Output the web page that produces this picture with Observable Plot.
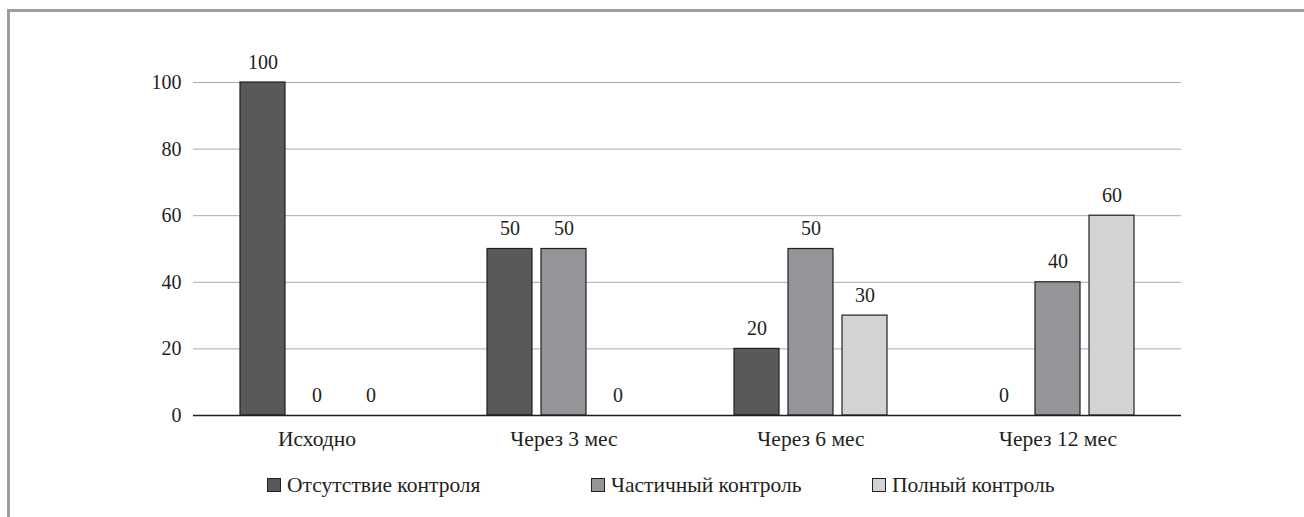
<!DOCTYPE html>
<html lang="ru">
<head>
<meta charset="utf-8">
<script src="https://cdn.jsdelivr.net/npm/d3@7"></script>
<script src="https://cdn.jsdelivr.net/npm/@observablehq/plot@0.6"></script>
<style>
  html, body { margin: 0; padding: 0; background: #fff; }
  #page { position: relative; width: 1304px; height: 517px; overflow: hidden;
          font-family: 'Liberation Serif', 'DejaVu Serif', serif; color: #231f20; }
  #frame { position: absolute; left: 7px; top: 9px; right: -10px; bottom: -10px;
           border-top: 3px solid #9d9d9d; border-left: 3px solid #9d9d9d; }
  #chart { position: absolute; left: 0; top: 0; }
  #chart svg, #chart text { font-family: 'Liberation Serif', 'DejaVu Serif', serif; }
  #legend { position: absolute; left: 267px; top: 475px; display: flex;
            font-size: 21.5px; line-height: 21px; white-space: nowrap; }
  #legend .item:nth-child(1) { width: 324px; }
  #legend .item:nth-child(2) { width: 281px; }
  #legend .sw { display: inline-block; width: 12px; height: 12px; border: 1px solid #231f20;
                margin-right: 6px; vertical-align: baseline; }
</style>
</head>
<body>
<div id="page">
  <div id="frame"></div>
  <div id="chart"></div>
  <div id="legend"></div>
</div>
<script>
// Control status of patients over follow-up, %
const periods = ["Исходно", "Через 3 мес", "Через 6 мес", "Через 12 мес"];
const groups = ["Отсутствие контроля", "Частичный контроль", "Полный контроль"];
const noControl = [100, 50, 20, 0];
const partialControl = [0, 50, 50, 40];
const fullControl = [0, 0, 30, 60];
const yTicks = [0, 20, 40, 60, 80, 100];
const groupColors = ["#58595b", "#939598", "#d1d3d4"];

const series = [noControl, partialControl, fullControl];
const rows = [];
periods.forEach((p, i) => {
  groups.forEach((g, j) => rows.push({period: p, group: g, value: series[j][i]}));
});

const ink = "#231f20";

const chart = Plot.plot({
  width: 1304,
  height: 460,
  marginTop: 82,
  marginBottom: 45,
  marginLeft: 193,
  marginRight: 123,
  style: {fontSize: "20px", color: ink, background: "transparent"},
  fx: {domain: periods, paddingInner: 0, paddingOuter: 0},
  x: {domain: groups, paddingInner: 0.174, paddingOuter: 0.846, axis: null},
  y: {domain: [0, 100]},
  color: {domain: groups, range: groupColors},
  marks: [
    Plot.axisFx({anchor: "bottom", tickSize: 0, tickPadding: 15, label: null, fontSize: 21.5}),
    Plot.axisY({ticks: yTicks, tickSize: 0, tickPadding: 12, label: null, tickFormat: d => String(d), fontSize: 20}),
    Plot.ruleY(yTicks.filter(d => d > 0), {stroke: "#a7a9ac", strokeWidth: 1}),
    Plot.barY(rows.filter(d => d.value > 0), {
      fx: "period", x: "group", y: "value", fill: "group",
      stroke: ink, strokeWidth: 1.2
    }),
    Plot.ruleY([0], {stroke: ink, strokeWidth: 1.5}),
    Plot.text(rows, {
      fx: "period", x: "group", y: "value", text: d => String(d.value),
      lineAnchor: "bottom", dy: -14, fill: ink, fontSize: 20
    })
  ]
});
document.getElementById("chart").appendChild(chart);

// Legend below the plot
const legend = document.getElementById("legend");
groups.forEach((g, i) => {
  const item = document.createElement("span");
  item.className = "item";
  const sw = document.createElement("span");
  sw.className = "sw";
  sw.style.background = groupColors[i];
  item.appendChild(sw);
  item.appendChild(document.createTextNode(g));
  legend.appendChild(item);
});
</script>
</body>
</html>
